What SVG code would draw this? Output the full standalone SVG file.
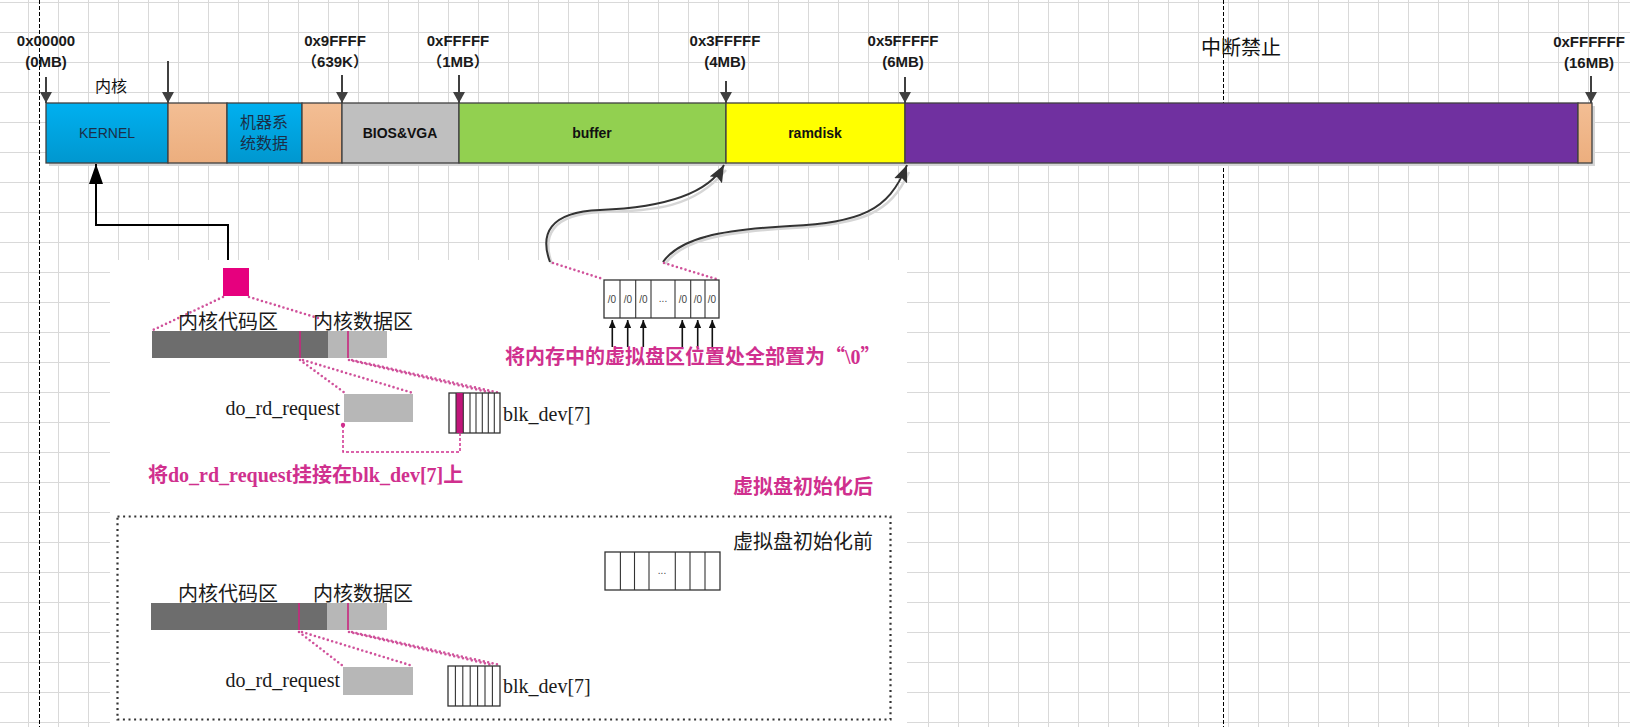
<svg xmlns="http://www.w3.org/2000/svg" width="1630" height="727" viewBox="0 0 1630 727">
<defs>
  <pattern id="grid" patternUnits="userSpaceOnUse" x="28" y="2" width="30" height="30">
    <path d="M0.5 0 V30 M0 0.5 H30" fill="none" stroke="#d9d9d9" stroke-width="1"/>
  </pattern>
  <linearGradient id="gBlue" x1="0" y1="0" x2="0" y2="1">
    <stop offset="0" stop-color="#00b0f0"/>
    <stop offset="1" stop-color="#0097cf"/>
  </linearGradient>
  <linearGradient id="gOrange" x1="0" y1="0" x2="0" y2="1">
    <stop offset="0" stop-color="#f3be94"/>
    <stop offset="1" stop-color="#ecae7e"/>
  </linearGradient>
  <marker id="mDown" markerUnits="userSpaceOnUse" markerWidth="12" markerHeight="12" refX="11" refY="6" orient="auto">
    <path d="M0,0 L11,6 L0,12 z" fill="#404040"/>
  </marker>
  <marker id="mKernel" markerUnits="userSpaceOnUse" markerWidth="20" markerHeight="14" refX="20" refY="7" orient="auto">
    <path d="M0,0 L20,7 L0,14 z" fill="#000"/>
  </marker>
  <marker id="mCurve" markerUnits="userSpaceOnUse" markerWidth="17" markerHeight="14" refX="17" refY="7" orient="auto">
    <path d="M0,0 L17,7 L0,14 L3,7 z" fill="#333"/>
  </marker>
  <marker id="mSmall" markerUnits="userSpaceOnUse" markerWidth="8" markerHeight="7" refX="8" refY="3.5" orient="auto">
    <path d="M0,0 L8,3.5 L0,7 z" fill="#111"/>
  </marker>
  <style>
    .seg { stroke: #404040; stroke-width: 1.3; }
    .addr { font-family: "Liberation Sans", "Noto Sans CJK SC", sans-serif; font-size: 15px; font-weight: bold; fill: #1a1a1a; text-anchor: middle; }
    .inbar { font-family: "Liberation Sans", "Noto Sans CJK SC", sans-serif; font-size: 14px; font-weight: bold; fill: #111; text-anchor: middle; }
    .cjk { font-family: "Noto Sans CJK SC", sans-serif; }
    .darr { stroke: #404040; stroke-width: 2; fill: none; marker-end: url(#mDown); }
    .vdash { stroke: #000; stroke-width: 1; stroke-dasharray: 4 2; fill: none; }
    .img { font-family: "Liberation Serif", "Noto Sans CJK SC", serif; font-size: 20px; fill: #1a1a1a; }
    .pinktxt { font-family: "Liberation Serif", "Noto Sans CJK SC", serif; font-size: 20px; font-weight: bold; fill: #d0308e; }
    .dots { stroke: #d0529b; stroke-width: 2.6; stroke-dasharray: 0 4.5; stroke-linecap: round; fill: none; }
    .dark { fill: #6d6d6d; }
    .light { fill: #b7b7b7; }
    .mark { stroke: #c8267e; stroke-width: 1.6; }
    .cell { fill: #fff; stroke: #333; stroke-width: 1.3; }
    .cline { stroke: #333; stroke-width: 1.1; }
    .z { font-family: "Liberation Sans", sans-serif; font-size: 10px; fill: #444; text-anchor: middle; }
    .uparr { stroke: #111; stroke-width: 1.6; marker-end: url(#mSmall); }
    .curve { stroke: #333; stroke-width: 2; fill: none; marker-end: url(#mCurve); }
    .curveShadow { stroke: #d6d6d6; stroke-width: 2.5; fill: none; }
  </style>
</defs>

<rect width="1630" height="727" fill="#fff"/>
<rect width="1630" height="727" fill="url(#grid)"/>

<!-- vertical dashed guides -->
<line class="vdash" x1="39.5" y1="0" x2="39.5" y2="727"/>
<line class="vdash" x1="1223.5" y1="0" x2="1223.5" y2="727"/>

<!-- pasted illustration background -->
<rect x="110" y="260" width="797" height="467" fill="#fff"/>

<!-- memory bar -->
<g id="bar">
  <rect x="49" y="106" width="1546" height="60" fill="#d6d6d6"/>
  <g id="seg-kernel">
    <rect class="seg" x="46" y="103" width="122" height="60" fill="url(#gBlue)"/>
    <text x="107" y="138" font-family="Liberation Sans, sans-serif" font-size="14" fill="#1b2f48" text-anchor="middle">KERNEL</text>
  </g>
  <g id="seg-gap1"><rect class="seg" x="168" y="103" width="59" height="60" fill="url(#gOrange)"/></g>
  <g id="seg-machine">
    <rect class="seg" x="227" y="103" width="75" height="60" fill="url(#gBlue)"/>
    <text class="cjk" x="264" y="128" font-size="16" fill="#1b2f48" text-anchor="middle">机器系</text>
    <text class="cjk" x="264" y="149" font-size="16" fill="#1b2f48" text-anchor="middle">统数据</text>
  </g>
  <g id="seg-gap2"><rect class="seg" x="302" y="103" width="40" height="60" fill="url(#gOrange)"/></g>
  <g id="seg-bios">
    <rect class="seg" x="342" y="103" width="117" height="60" fill="#bfbfbf"/>
    <text class="inbar" x="400" y="138">BIOS&amp;VGA</text>
  </g>
  <g id="seg-buffer">
    <rect class="seg" x="459" y="103" width="267" height="60" fill="#92d050"/>
    <text class="inbar" x="592" y="138">buffer</text>
  </g>
  <g id="seg-ramdisk">
    <rect class="seg" x="726" y="103" width="179" height="60" fill="#ffff00"/>
    <text class="inbar" x="815" y="138">ramdisk</text>
  </g>
  <g id="seg-purple"><rect class="seg" x="905" y="103" width="673" height="60" fill="#7030a0"/></g>
  <g id="seg-end"><rect class="seg" x="1578" y="103" width="14" height="60" fill="url(#gOrange)"/></g>
</g>

<!-- labels above bar -->
<g id="labels">
  <text class="addr" x="46" y="46">0x00000</text>
  <text class="addr" x="46" y="67">(0MB)</text>
  <text class="cjk" x="111" y="92" font-size="16" fill="#111" text-anchor="middle">内核</text>
  <text class="addr" x="335" y="46">0x9FFFF</text>
  <text class="addr" x="335" y="67">（639K）</text>
  <text class="addr" x="458" y="46">0xFFFFF</text>
  <text class="addr" x="458" y="67">（1MB）</text>
  <text class="addr" x="725" y="46">0x3FFFFF</text>
  <text class="addr" x="725" y="67">(4MB)</text>
  <text class="addr" x="903" y="46">0x5FFFFF</text>
  <text class="addr" x="903" y="67">(6MB)</text>
  <text class="addr" x="1589" y="47">0xFFFFFF</text>
  <text class="addr" x="1589" y="68">(16MB)</text>
  <text class="cjk" x="1241" y="55" font-size="20" fill="#111" text-anchor="middle">中断禁止</text>
</g>

<!-- connectors -->
<g id="connectors">
  <line class="darr" x1="46" y1="77" x2="46" y2="103"/>
  <line class="darr" x1="168" y1="61" x2="168" y2="103"/>
  <line class="darr" x1="342" y1="75" x2="342" y2="103"/>
  <line class="darr" x1="459" y1="75" x2="459" y2="103"/>
  <line class="darr" x1="726" y1="81" x2="726" y2="103"/>
  <line class="darr" x1="905" y1="77" x2="905" y2="103"/>
  <line class="darr" x1="1591" y1="76" x2="1591" y2="103"/>
  <polyline points="228,260 228,225 96,225 96,164" fill="none" stroke="#000" stroke-width="2" marker-end="url(#mKernel)"/>
  <path class="curveShadow" d="M552,264 C542,237 550,214 602,212 C652,210 692,210 726,170"/>
  <path class="curve" d="M550,262 C540,235 548,212 600,210 C650,208 706,198 724,165"/>
  <path class="curveShadow" d="M665,264 C682,240 722,232 792,228 C862,224 890,214 909,172"/>
  <path class="curve" d="M663,262 C680,238 720,230 790,226 C860,222 888,212 907,165"/>
</g>

<!-- after init illustration -->
<g id="after-init">
  <rect x="223" y="268" width="26" height="28" fill="#e6007e"/>
  <line class="dots" x1="223" y1="297" x2="153" y2="330"/>
  <line class="dots" x1="249" y1="297" x2="318" y2="318"/>
  <text class="img cjk" x="178" y="329" font-size="20" fill="#222">内核代码区</text>
  <text class="img cjk" x="313" y="329" font-size="20" fill="#222">内核数据区</text>
  <rect class="dark" x="152" y="331" width="176" height="27"/>
  <rect class="light" x="328" y="331" width="59" height="27"/>
  <line class="mark" x1="300" y1="331" x2="300" y2="358"/>
  <line class="mark" x1="348" y1="331" x2="348" y2="358"/>
  <line class="dots" x1="300" y1="360" x2="345" y2="393"/>
  <line class="dots" x1="303" y1="360" x2="413" y2="393"/>
  <line class="dots" x1="349" y1="360" x2="492" y2="393"/>
  <line class="dots" x1="352" y1="360" x2="500" y2="393"/>
  <rect class="light" x="344" y="394" width="69" height="28"/>
  <text class="img" x="340" y="415" text-anchor="end">do_rd_request</text>
  <rect class="cell" x="449" y="393" width="51" height="40"/>
  <rect x="456" y="393" width="7.3" height="40" fill="#c0157a"/>
  <line class="cline" x1="456" y1="393" x2="456" y2="433"/>
  <line class="cline" x1="463.3" y1="393" x2="463.3" y2="433"/>
  <line class="cline" x1="470" y1="393" x2="470" y2="433"/>
  <line class="cline" x1="476" y1="393" x2="476" y2="433"/>
  <line class="cline" x1="482.3" y1="393" x2="482.3" y2="433"/>
  <line class="cline" x1="488.3" y1="393" x2="488.3" y2="433"/>
  <line class="cline" x1="494.3" y1="393" x2="494.3" y2="433"/>
  <text class="img" x="503" y="421">blk_dev[7]</text>
  <polyline points="460,433 460,452 343,452 343,427" fill="none" stroke="#d0308e" stroke-width="1.5" stroke-dasharray="3 2"/>
  <circle cx="343" cy="425" r="2.2" fill="#d0308e"/>
  <text class="pinktxt" x="148" y="482">将do_rd_request挂接在blk_dev[7]上</text>

  <line class="dots" x1="553" y1="263" x2="603" y2="279"/>
  <line class="dots" x1="664" y1="263" x2="716" y2="279"/>
  <rect class="cell" x="604" y="280" width="115" height="38"/>
  <line class="cline" x1="620" y1="280" x2="620" y2="318"/>
  <line class="cline" x1="635.7" y1="280" x2="635.7" y2="318"/>
  <line class="cline" x1="651" y1="280" x2="651" y2="318"/>
  <line class="cline" x1="675" y1="280" x2="675" y2="318"/>
  <line class="cline" x1="690.7" y1="280" x2="690.7" y2="318"/>
  <line class="cline" x1="705" y1="280" x2="705" y2="318"/>
  <text class="z" x="612" y="303">/0</text>
  <text class="z" x="628" y="303">/0</text>
  <text class="z" x="643.3" y="303">/0</text>
  <text class="z" x="663" y="302">...</text>
  <text class="z" x="683" y="303">/0</text>
  <text class="z" x="698" y="303">/0</text>
  <text class="z" x="712" y="303">/0</text>
  <line class="uparr" x1="612.3" y1="347" x2="612.3" y2="320"/>
  <line class="uparr" x1="627.7" y1="347" x2="627.7" y2="320"/>
  <line class="uparr" x1="643.3" y1="347" x2="643.3" y2="320"/>
  <line class="uparr" x1="682.3" y1="347" x2="682.3" y2="320"/>
  <line class="uparr" x1="697.7" y1="347" x2="697.7" y2="320"/>
  <line class="uparr" x1="712.3" y1="347" x2="712.3" y2="320"/>
  <text class="pinktxt" x="505" y="364">将内存中的虚拟盘区位置处全部置为<tspan font-family="Noto Sans CJK SC, sans-serif">“</tspan>\0<tspan font-family="Noto Sans CJK SC, sans-serif">”</tspan></text>
  <text class="pinktxt cjk" x="733" y="494">虚拟盘初始化后</text>
</g>

<!-- before init illustration -->
<g id="before-init">
  <rect x="117.5" y="516.5" width="773" height="203" fill="none" stroke="#333" stroke-width="2.2" stroke-dasharray="2 3.6"/>
  <text class="img cjk" x="733" y="549" font-size="20" fill="#222">虚拟盘初始化前</text>
  <rect class="cell" x="605" y="552" width="115" height="38"/>
  <line class="cline" x1="620.4" y1="552" x2="620.4" y2="590"/>
  <line class="cline" x1="634.5" y1="552" x2="634.5" y2="590"/>
  <line class="cline" x1="649" y1="552" x2="649" y2="590"/>
  <line class="cline" x1="675.3" y1="552" x2="675.3" y2="590"/>
  <line class="cline" x1="690" y1="552" x2="690" y2="590"/>
  <line class="cline" x1="705" y1="552" x2="705" y2="590"/>
  <text class="z" x="662" y="574">...</text>
  <text class="img cjk" x="178" y="601" font-size="20" fill="#222">内核代码区</text>
  <text class="img cjk" x="313" y="601" font-size="20" fill="#222">内核数据区</text>
  <rect class="dark" x="151" y="603" width="176" height="27"/>
  <rect class="light" x="327" y="603" width="60" height="27"/>
  <line class="mark" x1="299" y1="603" x2="299" y2="630"/>
  <line class="mark" x1="348" y1="603" x2="348" y2="630"/>
  <line class="dots" x1="299" y1="632" x2="343" y2="666"/>
  <line class="dots" x1="302" y1="632" x2="413" y2="666"/>
  <line class="dots" x1="349" y1="632" x2="492" y2="665"/>
  <line class="dots" x1="352" y1="632" x2="500" y2="665"/>
  <rect class="light" x="343" y="667" width="70" height="28"/>
  <text class="img" x="340" y="687" text-anchor="end">do_rd_request</text>
  <rect class="cell" x="448" y="666" width="52" height="40"/>
  <line class="cline" x1="455.4" y1="666" x2="455.4" y2="706"/>
  <line class="cline" x1="462.8" y1="666" x2="462.8" y2="706"/>
  <line class="cline" x1="470.2" y1="666" x2="470.2" y2="706"/>
  <line class="cline" x1="477.6" y1="666" x2="477.6" y2="706"/>
  <line class="cline" x1="485" y1="666" x2="485" y2="706"/>
  <line class="cline" x1="492.4" y1="666" x2="492.4" y2="706"/>
  <text class="img" x="503" y="693">blk_dev[7]</text>
</g>
</svg>
